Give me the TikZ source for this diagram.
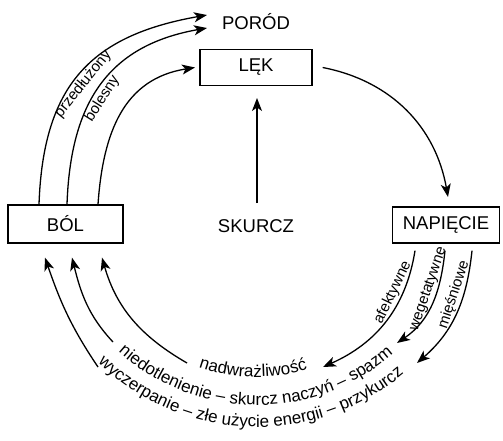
\documentclass[tikz,border=0pt]{standalone}
\usepackage{fontspec}
\setmainfont{Liberation Sans}
\usetikzlibrary{arrows.meta,decorations.text}

\newcommand\arcfont{\fontsize{17}{20}\selectfont}

\begin{document}
\begin{tikzpicture}[x=1pt,y=1pt,
  box/.style={draw,line width=1.3pt,minimum width=112pt,minimum height=36pt,font=\fontsize{18.5}{22}\selectfont},
  big/.style={font=\fontsize{18.5}{22}\selectfont},
  arr/.style={line width=1.3pt,-{Stealth[length=13pt,width=10pt,inset=3.5pt]}},
  lbl/.style={font=\fontsize{15}{17}\selectfont,sloped,inner sep=1.5pt}]
  \useasboundingbox (0,0) rectangle (503,440);
  \coordinate (O) at (257,242);

  \node[big] (porod) at (256,418) {PORÓD};
  \node[box] (lek) at (256,372.5) {LĘK};
  \node[box,minimum width=115pt,minimum height=38pt] (bol) at (65.5,216) {BÓL};
  \node[box,minimum width=107pt] (napiecie) at (446,215) {NAPIĘCIE};
  \node[big] (skurcz) at (256,214) {SKURCZ};

  % ends of the arrows
  \coordinate (p1) at (207,425);
  \coordinate (p2) at (207,412);
  \coordinate (l1) at (195,372.5);
  \coordinate (n1) at (448,243);
  \coordinate (s1) at (257,342);
  \coordinate (s0) at (257,237);

  \coordinate (a1) at (323,73);
  \coordinate (a2) at (397,97);
  \coordinate (a3) at (417,77);
  \coordinate (w1) at (98,73);
  \coordinate (w2) at (113,98);
  \coordinate (w3) at (187,77);

  \draw[arr] (s0) -- (s1);
  \draw[arr] ([xshift=10pt]lek.east) to[out=-11,in=100] (n1);

  \draw[arr] ([xshift=-26.5pt]bol.north) to[out=88,in=190,looseness=1.2] node[lbl,below,pos=0.47] {przedłużony} (p1);
  \draw[arr] ([xshift=1.5pt]bol.north) to[out=88,in=190,looseness=1.15] node[lbl,below,pos=0.45] {bolesny} (p2);
  \draw[arr] ([xshift=32.5pt]bol.north) to[out=86,in=189,looseness=1.1] (l1);

  \draw[arr] ([xshift=-31pt,yshift=-7pt]napiecie.south) to[out=-99,in=24] node[lbl,above,pos=0.3] {afektywne} (a1);
  \draw[arr] ([xshift=-1pt,yshift=-7pt]napiecie.south) to[out=-96,in=34] node[lbl,above,pos=0.38] {wegetatywne} (a2);
  \draw[arr] ([xshift=26pt,yshift=-7pt]napiecie.south) to[out=-96,in=41] node[lbl,above,pos=0.36] {mięśniowe} (a3);

  \draw[arr] (w1) to[out=124,in=-71] ([xshift=-20.5pt,yshift=-14pt]bol.south);
  \draw[arr] (w2) to[out=133,in=-76] ([xshift=6.5pt,yshift=-14pt]bol.south);
  \draw[arr] (w3) to[out=150,in=-74] ([xshift=36.5pt,yshift=-14pt]bol.south);

  % text round the bottom
  \path[decorate,decoration={text along path,text align=left,text={|\arcfont|nadwrażliwość}}]
    (O) ++(251:179) arc[start angle=251,end angle=310,radius=179];
  \path[decorate,decoration={text along path,text align=left,text={|\arcfont|niedotlenienie – skurcz naczyń – spazm}}]
    (O) ++(228:207) arc[start angle=228,end angle=330,radius=207];
  \path[decorate,decoration={text along path,text align=left,text={|\arcfont|wyczerpanie – złe użycie energii – przykurcz}}]
    (O) ++(226:229) arc[start angle=226,end angle=330,radius=229];
\end{tikzpicture}
\end{document}
